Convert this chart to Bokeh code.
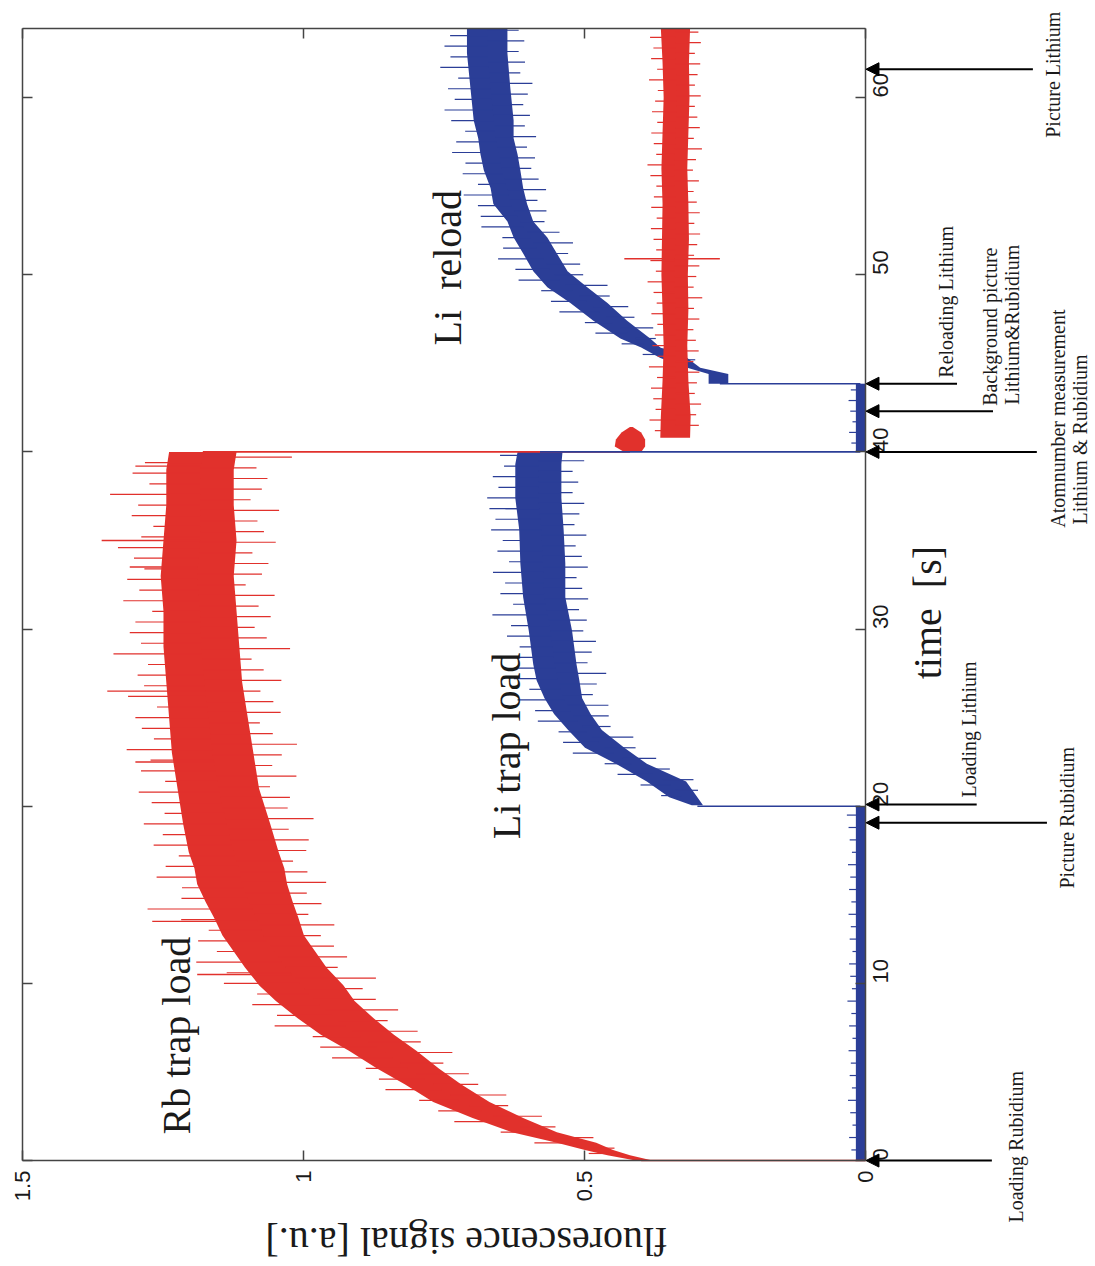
import numpy as np
from math import pi
from bokeh.plotting import figure
from bokeh.models import Range1d, LinearAxis, FixedTicker, Label, Arrow, NormalHead, ColumnDataSource
from bokeh.embed import file_html
from bokeh.resources import INLINE

RED = "#E1312C"
BLUE = "#2B3E97"
INK = "#1a1a1a"
AX = "#444444"

# ---------------- data (time [s] , fluorescence [a.u.]) ----------------
time_ticks = [0, 10, 20, 30, 40, 50, 60]
fluo_ticks = [0, 0.5, 1, 1.5]
fluo_tick_labels = ["0", "0.5", "1", "1.5"]
t_max = 63.9
fluo_max = 1.5

# Rb trap load (red): noise band low / high
rb_t  = [0.0, 0.3, 0.6, 1.0, 1.6, 2.4, 3.3, 4.3, 5.2, 6.2, 7.1, 8.0, 9.0, 9.9, 10.9, 11.8, 12.7,
         13.7, 14.6, 15.6, 16.5, 17.4, 19, 21, 23, 25, 27, 29, 31, 33, 35, 37, 39, 40.0]
rb_lo = [0.38, 0.42, 0.45, 0.48, 0.55, 0.61, 0.67, 0.72, 0.76, 0.80, 0.84, 0.875, 0.91, 0.93, 0.96,
         0.98, 1.0, 1.01, 1.02, 1.03, 1.035, 1.045, 1.06, 1.08, 1.09, 1.10, 1.11, 1.115, 1.12, 1.125,
         1.12, 1.125, 1.125, 1.12]
rb_hi = [0.41, 0.46, 0.50, 0.55, 0.63, 0.70, 0.77, 0.82, 0.87, 0.92, 0.97, 1.01, 1.05, 1.08, 1.105,
         1.125, 1.145, 1.16, 1.175, 1.19, 1.195, 1.205, 1.215, 1.225, 1.235, 1.24, 1.245, 1.25, 1.25,
         1.255, 1.25, 1.245, 1.245, 1.24]
# noise excursions beyond the band (upper = larger signal, lower = smaller signal)
rb_up_t = [0.4, 1.0, 1.6, 2.2, 2.8, 3.4, 4.0, 4.6, 5.2, 5.8, 6.4, 7.0, 7.6, 8.2, 8.8, 9.4, 10.0, 10.6,
           11.2, 11.8, 12.4, 13.0, 13.6, 14.2, 14.8, 15.4, 16.0, 16.6, 17.2, 17.8, 18.4, 19.0, 19.6,
           20.2, 20.8, 21.4, 22.0, 22.6, 23.2, 23.8, 24.4, 25.0, 25.6, 26.2, 26.8, 27.4, 28.0, 28.6,
           29.2, 29.8, 30.4, 31.0, 31.6, 32.2, 32.8, 33.4, 34.0, 34.6, 35.2, 35.8, 36.4, 37.0, 37.6,
           38.2, 38.8, 39.4]
rb_up_ext = [0.02, 0.04, 0.02, 0.05, 0.03, 0.02, 0.05, 0.03, 0.02, 0.05, 0.04, 0.02, 0.06, 0.03, 0.05,
             0.02, 0.06, 0.04, 0.08, 0.03, 0.05, 0.02, 0.06, 0.11, 0.04, 0.03, 0.07, 0.05, 0.02, 0.06,
             0.04, 0.07, 0.03, 0.05, 0.07, 0.02, 0.06, 0.04, 0.08, 0.03, 0.05, 0.06, 0.02, 0.07, 0.04,
             0.05, 0.03, 0.09, 0.04, 0.06, 0.05, 0.02, 0.07, 0.04, 0.06, 0.03, 0.05, 0.08, 0.04, 0.02,
             0.06, 0.05, 0.10, 0.03, 0.06, 0.04]
rb_dn_t = [0.7, 1.3, 1.9, 2.5, 3.1, 3.7, 4.3, 4.9, 5.5, 6.1, 6.7, 7.3, 7.9, 8.5, 9.1, 9.7, 10.3, 10.9,
           11.5, 12.1, 12.7, 13.3, 13.9, 14.5, 15.1, 15.7, 16.3, 16.9, 17.5, 18.1, 18.7, 19.3, 19.9,
           20.5, 21.1, 21.7, 22.3, 22.9, 23.5, 24.1, 24.7, 25.3, 25.9, 26.5, 27.1, 27.7, 28.3, 28.9,
           29.5, 30.1, 30.7, 31.3, 31.9, 32.5, 33.1, 33.7, 34.3, 34.9, 35.5, 36.1, 36.7, 37.3, 37.9,
           38.5, 39.1, 39.7]
rb_dn_ext = [0.01, 0.03, 0.02, 0.04, 0.02, 0.05, 0.03, 0.04, 0.02, 0.06, 0.03, 0.05, 0.02, 0.06, 0.04,
             0.03, 0.07, 0.02, 0.05, 0.04, 0.03, 0.06, 0.02, 0.05, 0.03, 0.07, 0.04, 0.02, 0.05, 0.06,
             0.03, 0.08, 0.04, 0.05, 0.02, 0.07, 0.03, 0.05, 0.08, 0.04, 0.02, 0.06, 0.05, 0.03, 0.07,
             0.04, 0.02, 0.09, 0.05, 0.03, 0.06, 0.04, 0.07, 0.02, 0.05, 0.06, 0.03, 0.07, 0.05, 0.04,
             0.08, 0.03, 0.05, 0.06, 0.04, 0.10]
rb_big_t = [10.5, 13.5, 22.5, 26.5, 33.5, 35.0, 39.2]
rb_big_v = [1.19, 1.27, 1.30, 1.35, 1.31, 1.36, 1.30]

# Rb after atom-number measurement (red)
rb_blob_t  = [40.0, 40.3, 40.7, 41.1, 41.4]
rb_blob_lo = [0.40, 0.393, 0.393, 0.40, 0.415]
rb_blob_hi = [0.43, 0.447, 0.445, 0.435, 0.42]
rb2_t  = [40.8, 42, 44, 46, 48, 50, 52, 54, 56, 58, 60, 62, 63.9]
rb2_lo = [0.313, 0.312, 0.316, 0.318, 0.316, 0.317, 0.315, 0.316, 0.318, 0.316, 0.314, 0.315, 0.313]
rb2_hi = [0.366, 0.365, 0.362, 0.36, 0.362, 0.364, 0.363, 0.362, 0.364, 0.362, 0.36, 0.362, 0.365]
rb2_up_t = [41.2, 41.8, 42.4, 43.0, 43.6, 44.2, 44.8, 45.4, 46.0, 46.6, 47.2, 47.8, 48.4, 49.0, 49.6,
            50.2, 50.8, 51.4, 52.0, 52.6, 53.2, 53.8, 54.4, 55.0, 55.6, 56.2, 56.8, 57.4, 58.0, 58.6,
            59.2, 59.8, 60.4, 61.0, 61.6, 62.2, 62.8, 63.4]
rb2_up_ext = [0.01, 0.02, 0.01, 0.015, 0.02, 0.01, 0.025, 0.01, 0.02, 0.015, 0.01, 0.02, 0.01, 0.015,
              0.025, 0.01, 0.02, 0.01, 0.015, 0.02, 0.01, 0.02, 0.015, 0.01, 0.02, 0.025, 0.01, 0.015,
              0.02, 0.01, 0.02, 0.015, 0.01, 0.025, 0.01, 0.02, 0.015, 0.02]
rb2_dn_t = [41.5, 42.1, 42.7, 43.3, 43.9, 44.5, 45.1, 45.7, 46.3, 46.9, 47.5, 48.1, 48.7, 49.3, 49.9,
            50.5, 51.1, 51.7, 52.3, 52.9, 53.5, 54.1, 54.7, 55.3, 55.9, 56.5, 57.1, 57.7, 58.3, 58.9,
            59.5, 60.1, 60.7, 61.3, 61.9, 62.5, 63.1, 63.7]
rb2_dn_ext = [0.015, 0.01, 0.02, 0.01, 0.015, 0.02, 0.01, 0.02, 0.015, 0.01, 0.02, 0.01, 0.025, 0.01,
              0.015, 0.02, 0.01, 0.015, 0.02, 0.01, 0.02, 0.015, 0.01, 0.02, 0.01, 0.015, 0.025, 0.01,
              0.02, 0.015, 0.01, 0.02, 0.01, 0.015, 0.02, 0.01, 0.02, 0.015]
rb2_big_t = [50.9, 50.9]
rb2_big_v = [0.43, 0.26]

# Li background before loading and after measurement (blue)
li0_t  = [0.0, 20.0]
li0_lo = [0.0, 0.0]
li0_hi = [0.018, 0.018]
li0_up_t = [0.6, 1.3, 2.0, 2.7, 3.4, 4.1, 4.8, 5.5, 6.2, 6.9, 7.6, 8.3, 9.0, 9.7, 10.4, 11.1, 11.8,
            12.5, 13.2, 13.9, 14.6, 15.3, 16.0, 16.7, 17.4, 18.1, 18.8, 19.5]
li0_up_ext = [0.008, 0.012, 0.006, 0.01, 0.014, 0.007, 0.011, 0.009, 0.013, 0.006, 0.012, 0.008,
              0.015, 0.007, 0.01, 0.012, 0.006, 0.011, 0.009, 0.013, 0.008, 0.012, 0.01, 0.014,
              0.007, 0.011, 0.013, 0.016]
li2_t  = [40.0, 43.85]
li2_lo = [0.0, 0.0]
li2_hi = [0.018, 0.018]
li2_up_t = [40.5, 41.1, 41.7, 42.3, 42.9, 43.5]
li2_up_ext = [0.008, 0.012, 0.006, 0.01, 0.013, 0.009]

# Li trap load (blue)
li1_t  = [20.05, 20.5, 21.4, 22.4, 23.3, 24.3, 25.2, 26.1, 27.1, 28.0, 29.9, 31.8, 33.7, 35.6,
          37.4, 39.3, 40.0]
li1_lo = [0.29, 0.30, 0.32, 0.39, 0.43, 0.47, 0.49, 0.505, 0.51, 0.515, 0.523, 0.535, 0.535, 0.538,
          0.542, 0.542, 0.54]
li1_hi = [0.31, 0.35, 0.39, 0.445, 0.50, 0.53, 0.555, 0.572, 0.586, 0.592, 0.60, 0.61, 0.615, 0.617,
          0.624, 0.624, 0.62]
li1_up_t = [20.6, 21.2, 21.8, 22.4, 23.0, 23.6, 24.2, 24.8, 25.4, 26.0, 26.6, 27.2, 27.8, 28.4, 29.0,
            29.6, 30.2, 30.8, 31.4, 32.0, 32.6, 33.2, 33.8, 34.4, 35.0, 35.6, 36.2, 36.8, 37.4, 38.0,
            38.6, 39.2, 39.8]
li1_up_ext = [0.01, 0.02, 0.03, 0.02, 0.04, 0.03, 0.02, 0.04, 0.03, 0.05, 0.02, 0.04, 0.03, 0.05, 0.02,
              0.04, 0.03, 0.06, 0.02, 0.04, 0.03, 0.05, 0.02, 0.04, 0.03, 0.05, 0.04, 0.02, 0.05, 0.03,
              0.04, 0.02, 0.03]
li1_dn_t = [20.9, 21.5, 22.1, 22.7, 23.3, 23.9, 24.5, 25.1, 25.7, 26.3, 26.9, 27.5, 28.1, 28.7, 29.3,
            29.9, 30.5, 31.1, 31.7, 32.3, 32.9, 33.5, 34.1, 34.7, 35.3, 35.9, 36.5, 37.1, 37.7, 38.3,
            38.9, 39.5]
li1_dn_ext = [0.01, 0.02, 0.02, 0.03, 0.02, 0.04, 0.02, 0.03, 0.04, 0.02, 0.03, 0.05, 0.02, 0.03, 0.04,
              0.02, 0.03, 0.02, 0.04, 0.03, 0.02, 0.04, 0.03, 0.02, 0.04, 0.02, 0.03, 0.04, 0.02, 0.03,
              0.02, 0.04]
li1_big_t = [36.8]
li1_big_v = [0.67]

# Li reload (blue)
li3_t  = [43.85, 44.4, 44.75, 45.3, 45.9, 46.4, 47.4, 48.4, 49.3, 50.2, 51.2, 52.1, 53.0, 54.0,
          54.9, 55.9, 56.8, 57.7, 58.7, 60.6, 62.5, 63.9]
li3_lo = [0.245, 0.245, 0.295, 0.318, 0.366, 0.384, 0.425, 0.46, 0.496, 0.531, 0.55, 0.567, 0.592,
          0.603, 0.61, 0.615, 0.62, 0.627, 0.627, 0.633, 0.638, 0.638]
li3_hi = [0.28, 0.28, 0.318, 0.366, 0.40, 0.437, 0.485, 0.526, 0.567, 0.592, 0.61, 0.627, 0.638,
          0.663, 0.668, 0.68, 0.686, 0.69, 0.698, 0.704, 0.71, 0.71]
li3_up_t = [44.9, 45.5, 46.1, 46.7, 47.3, 47.9, 48.5, 49.1, 49.7, 50.3, 50.9, 51.5, 52.1, 52.7, 53.3,
            53.9, 54.5, 55.1, 55.7, 56.3, 56.9, 57.5, 58.1, 58.7, 59.3, 59.9, 60.5, 61.1, 61.7, 62.3,
            62.9, 63.5]
li3_up_ext = [0.01, 0.02, 0.02, 0.03, 0.02, 0.04, 0.03, 0.02, 0.04, 0.03, 0.05, 0.03, 0.02, 0.05, 0.04,
              0.03, 0.05, 0.02, 0.04, 0.03, 0.05, 0.04, 0.02, 0.04, 0.05, 0.03, 0.04, 0.02, 0.05, 0.03,
              0.04, 0.03]
li3_dn_t = [45.2, 45.8, 46.4, 47.0, 47.6, 48.2, 48.8, 49.4, 50.0, 50.6, 51.2, 51.8, 52.4, 53.0, 53.6,
            54.2, 54.8, 55.4, 56.0, 56.6, 57.2, 57.8, 58.4, 59.0, 59.6, 60.2, 60.8, 61.4, 62.0, 62.6,
            63.2, 63.8]
li3_dn_ext = [0.01, 0.02, 0.01, 0.03, 0.02, 0.03, 0.02, 0.04, 0.02, 0.03, 0.02, 0.04, 0.03, 0.02, 0.03,
              0.02, 0.04, 0.03, 0.02, 0.03, 0.02, 0.04, 0.02, 0.03, 0.02, 0.03, 0.04, 0.02, 0.03, 0.02,
              0.03, 0.02]

# jumps in the signals
jump_t     = [0.0, 20.0, 40.0, 40.0, 43.85]
jump_from  = [0.0, 0.01, 1.18, 0.58, 0.01]
jump_to    = [0.40, 0.30, 0.42, 0.01, 0.26]
jump_color = [RED, BLUE, RED, BLUE, BLUE]

# event arrows
event_t    = [0.0, 19.07, 20.1, 40.0, 42.3, 43.85, 61.6]
event_tail = [-0.224, -0.322, -0.197, -0.304, -0.226, -0.162, -0.297]

# event texts: text, fluorescence position, start time
event_text = ["Loading Rubidium", "Picture Rubidium", "Loading Lithium", "Atomnumber measurement",
              "Lithium & Rubidium", "Background picture", "Lithium&Rubidium", "Reloading Lithium",
              "Picture Lithium"]
event_text_v = [-0.267, -0.357, -0.183, -0.342, -0.380, -0.220, -0.260, -0.142, -0.332]
event_text_t = [-3.5, 15.35, 20.49, 35.72, 35.9, 42.6, 42.66, 44.19, 57.73]

# ---------------- figure (frame covers the page, axes fixed at the box edges) ----------------
p = figure(width=1095, height=1266, x_range=Range1d(1.540, -0.4084), y_range=Range1d(-5.98, 65.48),
           output_backend="svg", toolbar_location=None,
           x_axis_location=None, y_axis_location=None, min_border=0)
p.outline_line_color = None
p.background_fill_color = "white"
p.border_fill_color = "white"
p.xgrid.grid_line_color = None
p.ygrid.grid_line_color = None


def band(t, lo, hi, color):
    p.harea(x1=lo, x2=hi, y=t, fill_color=color, fill_alpha=1.0)


def noise(ts, exts, bt, blo, bhi, side, color):
    pairs = list(zip(ts, exts))
    ts = np.array([a for a, b in pairs], float)
    ex = np.array([b for a, b in pairs], float)
    blo = np.asarray(blo, float)
    bhi = np.asarray(bhi, float)
    centre = np.interp(ts, bt, (blo + bhi) / 2)
    edge = np.interp(ts, bt, bhi if side > 0 else blo)
    p.segment(x0=centre, y0=ts, x1=edge + side * ex, y1=ts, line_color=color, line_width=1.2)


def big_spikes(ts, vs, bt, blo, bhi, color):
    ts = np.asarray(ts, float)
    centre = np.interp(ts, bt, (np.asarray(blo) + np.asarray(bhi)) / 2)
    p.segment(x0=centre, y0=ts, x1=vs, y1=ts, line_color=color, line_width=1.4)


# blue first
band(li0_t, li0_lo, li0_hi, BLUE)
noise(li0_up_t, li0_up_ext, li0_t, li0_lo, li0_hi, +1, BLUE)
band(li1_t, li1_lo, li1_hi, BLUE)
noise(li1_up_t, li1_up_ext, li1_t, li1_lo, li1_hi, +1, BLUE)
noise(li1_dn_t, li1_dn_ext, li1_t, li1_lo, li1_hi, -1, BLUE)
big_spikes(li1_big_t, li1_big_v, li1_t, li1_lo, li1_hi, BLUE)
band(li2_t, li2_lo, li2_hi, BLUE)
noise(li2_up_t, li2_up_ext, li2_t, li2_lo, li2_hi, +1, BLUE)
band(li3_t, li3_lo, li3_hi, BLUE)
noise(li3_up_t, li3_up_ext, li3_t, li3_lo, li3_hi, +1, BLUE)
noise(li3_dn_t, li3_dn_ext, li3_t, li3_lo, li3_hi, -1, BLUE)

# red
band(rb_t, rb_lo, rb_hi, RED)
noise(rb_up_t, rb_up_ext, rb_t, rb_lo, rb_hi, +1, RED)
noise(rb_dn_t, rb_dn_ext, rb_t, rb_lo, rb_hi, -1, RED)
big_spikes(rb_big_t, rb_big_v, rb_t, rb_lo, rb_hi, RED)
band(rb_blob_t, rb_blob_lo, rb_blob_hi, RED)
band(rb2_t, rb2_lo, rb2_hi, RED)
noise(rb2_up_t, rb2_up_ext, rb2_t, rb2_lo, rb2_hi, +1, RED)
noise(rb2_dn_t, rb2_dn_ext, rb2_t, rb2_lo, rb2_hi, -1, RED)
big_spikes(rb2_big_t, rb2_big_v, rb2_t, rb2_lo, rb2_hi, RED)

# jumps
p.segment(x0=jump_from, y0=jump_t, x1=jump_to, y1=jump_t, line_color=jump_color, line_width=1.6)

# ---------------- axes ----------------
def style_axis(ax, show_labels=True):
    ax.axis_line_color = AX
    ax.axis_line_width = 1.5
    ax.major_tick_line_color = AX
    ax.major_tick_line_width = 1.5
    ax.major_tick_in = 10
    ax.major_tick_out = 0
    ax.minor_tick_line_color = None
    if show_labels:
        ax.major_label_text_font = "Liberation Sans"
        ax.major_label_text_font_size = "22px"
        ax.major_label_text_color = INK
        ax.major_label_orientation = pi / 2
        ax.major_label_standoff = 10
    else:
        ax.major_label_text_font_size = "0px"
        ax.major_label_text_alpha = 0
        ax.major_label_standoff = 0


xb = LinearAxis(ticker=FixedTicker(ticks=fluo_ticks), fixed_location=0, bounds=(0, fluo_max),
                major_label_overrides={k: s for k, s in zip(fluo_ticks, fluo_tick_labels)})
style_axis(xb)
p.add_layout(xb, "below")

xt = LinearAxis(ticker=FixedTicker(ticks=fluo_ticks), fixed_location=t_max, bounds=(0, fluo_max))
style_axis(xt, False)
p.add_layout(xt, "above")

yr = LinearAxis(ticker=FixedTicker(ticks=time_ticks), fixed_location=0, bounds=(0, t_max))
style_axis(yr)
yr.major_label_standoff = 15
p.add_layout(yr, "right")

yl = LinearAxis(ticker=FixedTicker(ticks=time_ticks), fixed_location=fluo_max, bounds=(0, t_max))
style_axis(yl, False)
p.add_layout(yl, "left")

# ---------------- arrows ----------------
asrc = ColumnDataSource(dict(t=event_t, tail=event_tail, head=[0.0] * len(event_t)))
p.add_layout(Arrow(end=NormalHead(size=13, fill_color="black", line_color="black"),
                   x_start="tail", y_start="t", x_end="head", y_end="t",
                   line_color="black", line_width=2, source=asrc))

# ---------------- texts ----------------
for txt, v, t in zip(event_text, event_text_v, event_text_t):
    p.add_layout(Label(x=v, y=t, text=txt, angle=pi / 2, text_align="left", text_baseline="middle",
                       text_font="Liberation Serif", text_font_size="20px", text_color=INK))

big = dict(angle=pi / 2, text_align="center", text_baseline="middle",
           text_font="Liberation Serif", text_font_size="40px", text_color=INK)
p.add_layout(Label(x=1.227, y=7.05, text="Rb trap load", **big))
p.add_layout(Label(x=0.640, y=23.4, text="Li trap load", **big))
p.add_layout(Label(x=0.745, y=50.4, text="Li\u00a0 reload", **big))
p.add_layout(Label(x=-0.110, y=30.93, text="time\u00a0 [s]", **big))
p.add_layout(Label(x=0.711, y=-4.57, text="fluorescence signal [a.u.]", angle=pi,
                   text_align="center", text_baseline="middle",
                   text_font="Liberation Serif", text_font_size="40px", text_color=INK))

open("out.html", "w").write(file_html(p, INLINE))
